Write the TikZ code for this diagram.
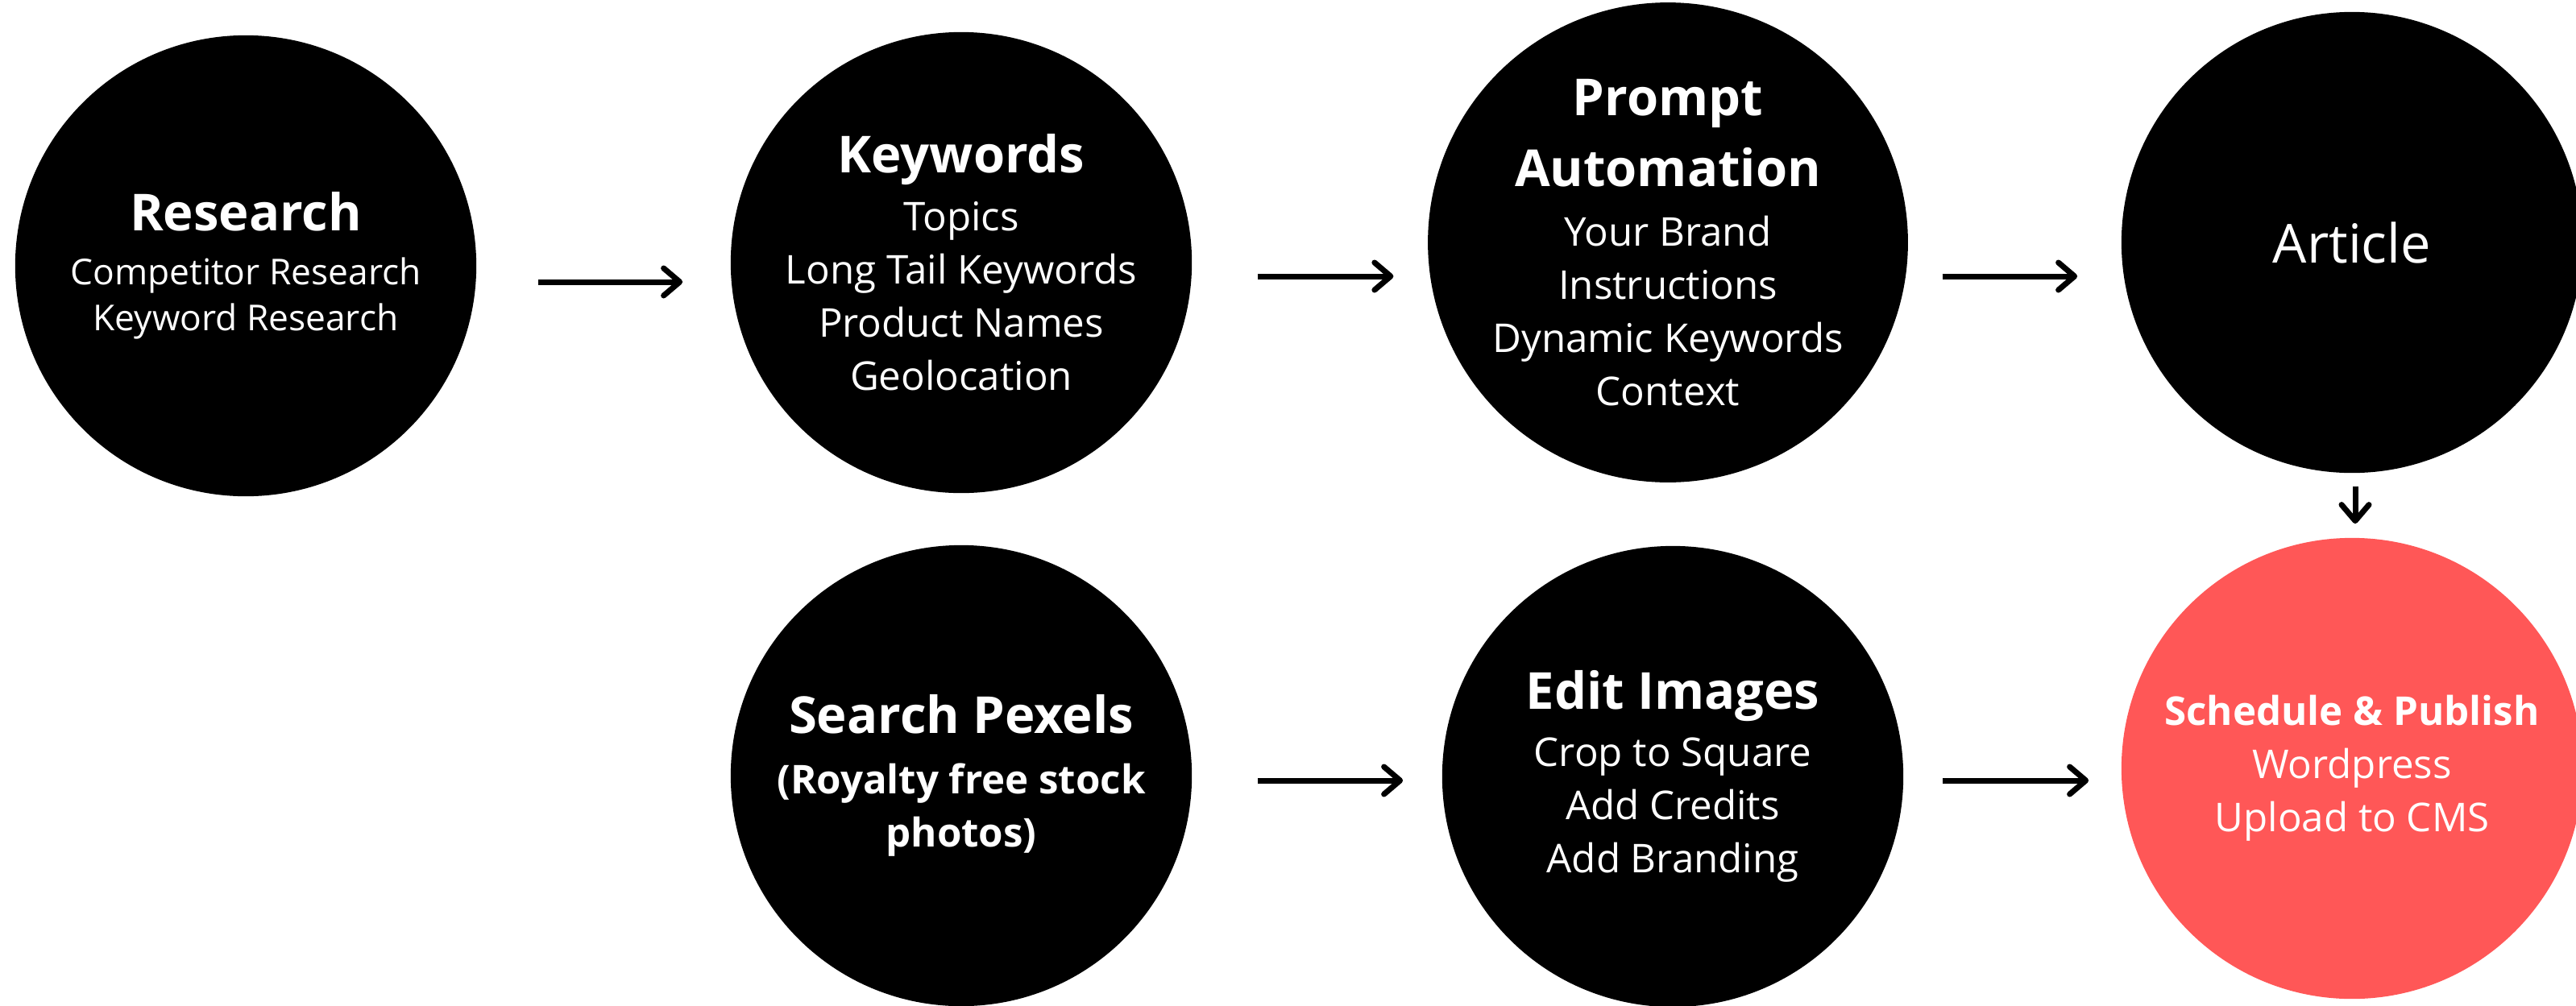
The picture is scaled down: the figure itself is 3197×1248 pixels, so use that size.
\documentclass[tikz,border=0pt]{standalone}
\usepackage{fontspec}
\setmainfont{Open Sans}
\usetikzlibrary{arrows.meta}
\definecolor{publishred}{HTML}{FF5757}
\newcommand{\stagebody}{\fontsize{14}{18.8}\selectfont}
\newcommand{\stagetitle}[1]{{\fontsize{18}{25}\selectfont\bfseries #1}}

\begin{document}
\begin{tikzpicture}[x=0.01cm,y=-0.01cm,stage/.style={circle,fill=black,text=white,minimum size=5.72cm,inner sep=0pt,align=center,font=\stagebody},flow/.style={line width=0.07cm,-{Straight Barb[length=0.2cm,width=0.34cm,line cap=round,line join=round]}}]
  \useasboundingbox (0,0) rectangle (3197,1248);
  \node[stage,font=\fontsize{12.6}{16.2}\selectfont] (research) at (305,330) {\stagetitle{Research}\\[2.9pt]Competitor Research\\Keyword Research};
  \node[stage] (keywords) at (1193,326) {\stagetitle{Keywords}\\[1.6pt]Topics\\Long Tail Keywords\\Product Names\\Geolocation};
  \node[stage] (prompt) at (2070,301) {\stagetitle{Prompt}\\[6.2pt]\stagetitle{Automation}\\[2.2pt]Your Brand\\Instructions\\Dynamic Keywords\\Context};
  \node[stage,font=\fontsize{19}{23}\selectfont] (article) at (2919,301) {Article};
  \node[stage,font=\stagebody\bfseries] (pexels) at (1193,963) {\stagetitle{Search Pexels}\\[2.5pt](Royalty free stock\\photos)};
  \node[stage] (images) at (2076,964) {\stagetitle{Edit Images}\\[1.5pt]Crop to Square\\Add Credits\\Add Branding};
  \node[stage,fill=publishred] (publish) at (2919,954) {\textbf{Schedule \& Publish}\\Wordpress\\Upload to CMS};
  \draw[flow] ([shift={(76,20)}]research.east) -- ([shift={(-59,24)}]keywords.west);
  \draw[flow] ([shift={(81,17)}]keywords.east) -- ([shift={(-42,42)}]prompt.west);
  \draw[flow] ([shift={(42,42)}]prompt.east) -- ([shift={(-54,42)}]article.west);
  \draw[flow] ([shift={(4,16)}]article.south) -- ([shift={(4,-17)}]publish.north);
  \draw[flow] ([shift={(81,6)}]pexels.east) -- ([shift={(-48,5)}]images.west);
  \draw[flow] ([shift={(48,5)}]images.east) -- ([shift={(-40,15)}]publish.west);
\end{tikzpicture}
\end{document}
